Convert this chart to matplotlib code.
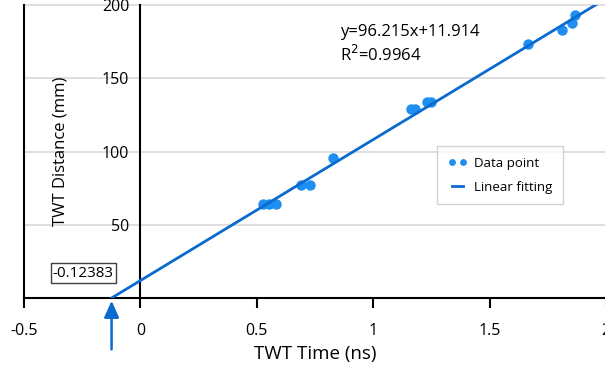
import matplotlib
matplotlib.use("Agg")
import matplotlib.pyplot as plt
import numpy as np

plt.rcParams['font.family'] = ['Open Sans', 'DejaVu Sans']

time_ns = [0.528, 0.554, 0.584, 0.691, 0.730, 0.828, 1.163, 1.180, 1.232, 1.249, 1.665, 1.811, 1.854, 1.867]
dist_mm = [64.4, 64.4, 64.0, 77.4, 77.4, 95.9, 128.8, 128.8, 133.6, 133.6, 173.3, 182.9, 187.7, 193.2]
slope = 96.215
intercept = 11.914
x_intercept = -0.12383
xticks = [-0.5, 0, 0.5, 1, 1.5, 2]
xtick_labels = ['-0.5', '0', '0.5', '1', '1.5', '2']
yticks = [50, 100, 150, 200]

pt_color = '#1f8ef1'
line_color = '#0a6ad0'

fig = plt.figure(figsize=(6.05, 3.72), dpi=100)
ax = fig.add_axes([24/605, (372-298)/372, 582/605, 293/372])
ax.set_xlim(-0.5, 2)
ax.set_ylim(0, 200)

for y in yticks:
    ax.axhline(y, color='#d9d9d9', lw=1.2, zorder=0, clip_on=False)

ax.spines['top'].set_visible(False)
ax.spines['right'].set_visible(False)
ax.spines['left'].set_position(('data', 0))
ax.spines['left'].set_color('black')
ax.spines['left'].set_linewidth(1.5)
ax.spines['bottom'].set_linewidth(1.5)
ax.axvline(-0.5, color='black', lw=1.5, clip_on=False, zorder=1)

ax.set_xticks(xticks)
ax.set_xticklabels(xtick_labels)
ax.set_yticks(yticks)
ax.tick_params(axis='x', length=7, width=1.5, labelsize=11.5, pad=11)
ax.tick_params(axis='y', length=0, labelsize=11.5, pad=8)

ax.plot(time_ns, dist_mm, 'o', color=pt_color, ms=6.5, label='Data point', zorder=3)
xfit = np.array([x_intercept, 2.1])
ax.plot(xfit, slope*xfit + intercept, '-', color=line_color, lw=2, label='Linear fitting', zorder=4)

ax.set_xlabel('TWT Time (ns)', fontsize=13.5, labelpad=4)
ax.text(0.062, 0.5, 'TWT Distance (mm)', transform=ax.transAxes, rotation=90,
        ha='center', va='center', fontsize=12)

ax.text(0.858, 181.5, 'y=96.215x+11.914', fontsize=12, va='center', ha='left')
ax.text(0.858, 166, 'R$^2$=0.9964', fontsize=12, va='center', ha='left')

ax.text(-0.245, 17, '-0.12383', fontsize=11, ha='center', va='center',
        bbox=dict(boxstyle='square,pad=0.15', fc='white', ec='#404040', lw=1))

ax.annotate('', xy=(x_intercept, 0), xytext=(x_intercept, -37),
            arrowprops=dict(arrowstyle='-|>,head_length=1.0,head_width=0.45', color=line_color, lw=1.8),
            annotation_clip=False)

leg = ax.legend(loc='upper left', bbox_to_anchor=((437-24)/582, (298-146)/293), numpoints=2,
                markerscale=0.6, fontsize=9.5, frameon=True, fancybox=False, handlelength=1.5,
                handletextpad=0.5, borderpad=0.8, labelspacing=0.85, borderaxespad=0)
leg.get_frame().set_edgecolor('#c8c8c8')
leg.get_frame().set_linewidth(1)

fig.savefig('out.png', dpi=100)
